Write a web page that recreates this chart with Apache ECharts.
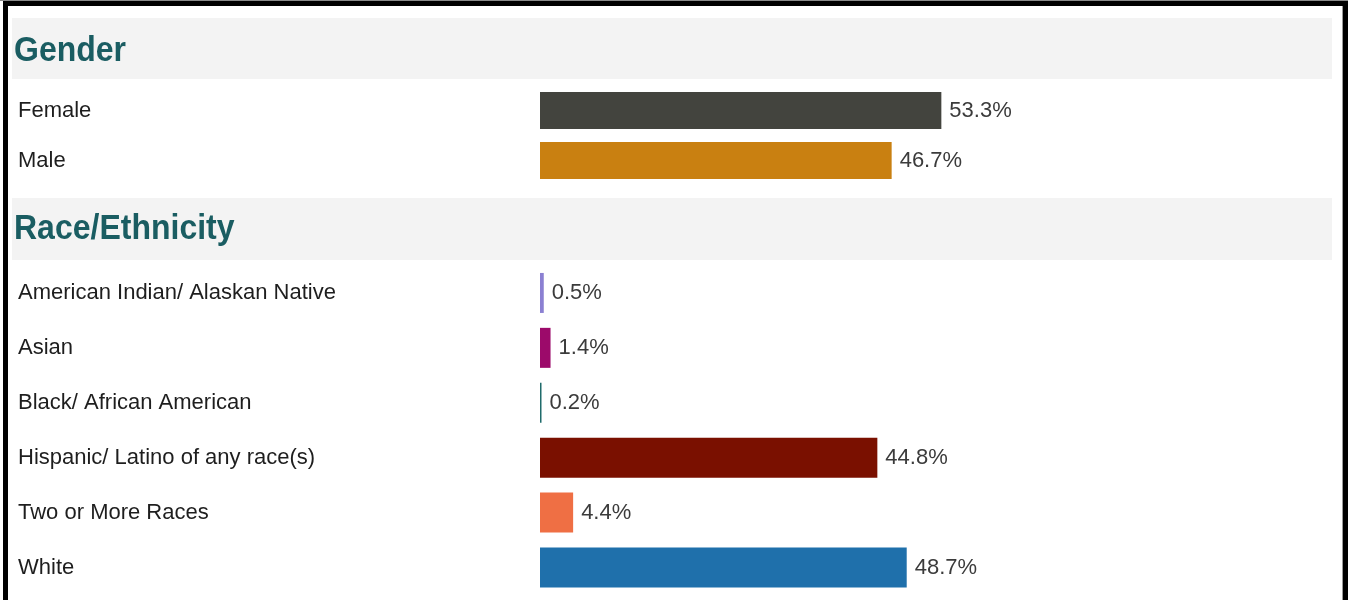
<!DOCTYPE html>
<html>
<head>
<meta charset="utf-8">
<style>
  html, body { margin: 0; padding: 0; background: #ffffff; }
  #chart { width: 1348px; height: 600px; }
</style>
<script src="https://cdn.jsdelivr.net/npm/echarts@6/dist/echarts.min.js"></script>
</head>
<body>
<div id="chart"></div>
<script>
// Section headings
const sectionTitles = ['Gender', 'Race/Ethnicity'];

// Gender breakdown (percent)
const genderCategories = ['Female', 'Male'];
const genderValues = [53.3, 46.7];
const genderColors = ['#43443e', '#c98011'];

// Race/Ethnicity breakdown (percent)
const raceCategories = [
  'American Indian/ Alaskan Native',
  'Asian',
  'Black/ African American',
  'Hispanic/ Latino of any race(s)',
  'Two or More Races',
  'White'
];
const raceValues = [0.5, 1.4, 0.2, 44.8, 4.4, 48.7];
const raceColors = ['#8b80d2', '#9c0a6a', '#1f6b6b', '#7a1000', '#ef6f44', '#1f70ab'];

const FONT = "'Liberation Sans', Arial, sans-serif";
const LABEL_LEFT = 18;
const BAR_LEFT = 540;

function bars(values, colors, axisIndex, width) {
  return {
    type: 'bar',
    xAxisIndex: axisIndex,
    yAxisIndex: axisIndex,
    barWidth: width,
    data: values.map((v, i) => ({ value: v, itemStyle: { color: colors[i] } })),
    label: {
      show: true,
      position: 'right',
      distance: 8,
      formatter: '{c}%',
      fontFamily: FONT,
      fontSize: 22,
      color: '#3b3b3b'
    },
    silent: true,
    animation: false
  };
}

function catAxis(categories, gridIndex) {
  return {
    type: 'category',
    gridIndex: gridIndex,
    data: categories,
    inverse: true,
    axisLine: { show: false },
    axisTick: { show: false },
    splitLine: { show: false },
    axisLabel: {
      align: 'left',
      margin: BAR_LEFT - LABEL_LEFT,
      fontFamily: FONT,
      fontSize: 22,
      color: '#1e1e1e'
    }
  };
}

function valAxis(gridIndex) {
  return {
    type: 'value',
    gridIndex: gridIndex,
    min: 0,
    max: 100,
    show: false
  };
}

// heading band with its title text
function heading(text, top, height, textY) {
  return [
    {
      type: 'rect',
      shape: { x: 12, y: top, width: 1320, height: height },
      style: { fill: '#f3f3f3' },
      z: -10
    },
    {
      type: 'text',
      x: 14,
      y: textY,
      scaleY: 1.08,
      style: {
        text: text,
        fontFamily: FONT,
        fontSize: 32,
        fontWeight: 'bold',
        fill: '#1a5d62',
        textVerticalAlign: 'middle'
      },
      z: -5
    }
  ];
}

const chart = echarts.init(document.getElementById('chart'), null, { renderer: 'canvas' });

chart.setOption({
  backgroundColor: '#ffffff',
  animation: false,
  grid: [
    { left: BAR_LEFT, right: 55, top: 85.5, height: 100 },
    { left: BAR_LEFT, right: 55, top: 265.5, height: 329.4 }
  ],
  xAxis: [valAxis(0), valAxis(1)],
  yAxis: [catAxis(genderCategories, 0), catAxis(raceCategories, 1)],
  series: [
    bars(genderValues, genderColors, 0, 37),
    bars(raceValues, raceColors, 1, 40)
  ],
  graphic: [
    ...heading(sectionTitles[0], 18, 61, 51),
    ...heading(sectionTitles[1], 198, 62, 229.5),
    // frame
    { type: 'rect', shape: { x: 0, y: 0, width: 1348, height: 1 }, style: { fill: '#8a8a8a' } },
    { type: 'rect', shape: { x: 3, y: 1, width: 1345, height: 5 }, style: { fill: '#000000' } },
    { type: 'rect', shape: { x: 3, y: 1, width: 5, height: 599 }, style: { fill: '#000000' } },
    { type: 'rect', shape: { x: 1342, y: 6, width: 1, height: 594 }, style: { fill: '#9a9a9a' } },
    { type: 'rect', shape: { x: 1343, y: 1, width: 5, height: 599 }, style: { fill: '#000000' } }
  ]
});
</script>
</body>
</html>
